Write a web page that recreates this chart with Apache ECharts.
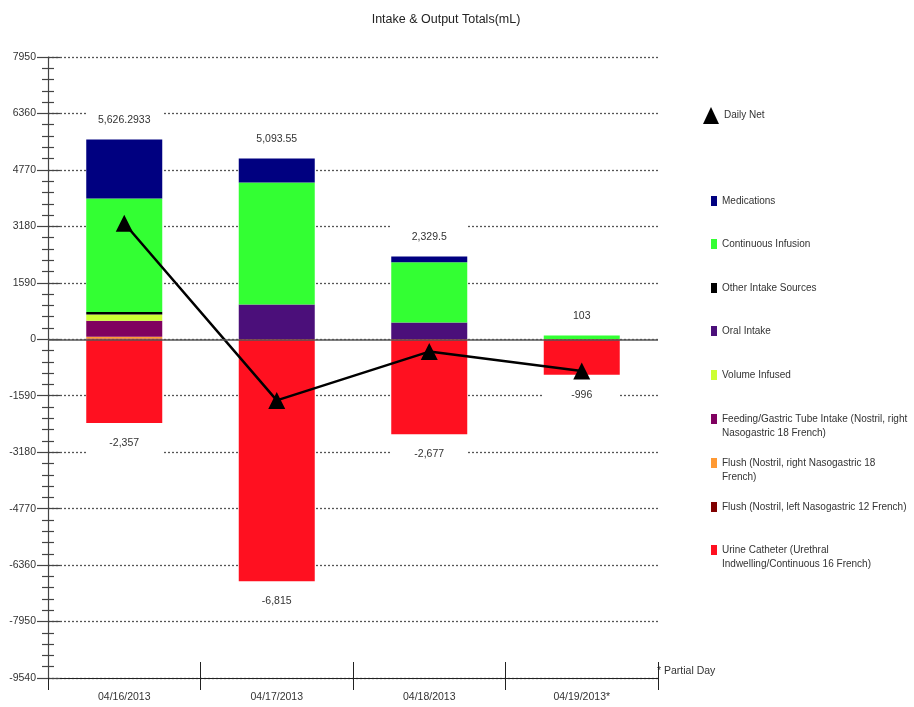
<!DOCTYPE html>
<html>
<head>
<meta charset="utf-8">
<title>Intake & Output Totals</title>
<script src="https://cdn.jsdelivr.net/npm/echarts@6/dist/echarts.min.js"></script>
<style>
  html, body { margin: 0; padding: 0; background: #fff; }
  #chart { width: 914px; height: 707px; }
</style>
</head>
<body>
<div id="chart"></div>
<script>
// Days shown on the category axis
const categories = ['04/16/2013', '04/17/2013', '04/18/2013', '04/19/2013*'];

// Intake sources (mL per day)
const medications        = [1659.2933, 675.55, 158.5, 0];
const continuousInfusion = [3197, 3440, 1701, 103];
const otherIntake        = [70, 0, 0, 0];
const oralIntake         = [0, 978, 470, 0];
const volumeInfused      = [180, 0, 0, 0];
const feedingTube        = [450, 0, 0, 0];
const flushRight         = [50, 0, 0, 0];
const flushLeft          = [20, 0, 0, 0];

// Output (mL per day)
const urineCatheter = [-2357, -6815, -2677, -996];

// Daily intake totals and net balance
const intakeTotals = [5626.2933, 5093.55, 2329.5, 103];
const dailyNet     = [3269.2933, -1721.45, -347.5, -893];

// Value axis range and step
const yMin = -9540;
const yMax = 7950;
const yStep = 1590;

const FONT = "'Liberation Sans', Arial, sans-serif";
const TEXT = '#333';
const LINE_H = 14.5;

function fmt(v) {
  return v.toLocaleString('en-US', { maximumFractionDigits: 4 });
}

const barSeries = [
  { name: 'Flush (Nostril, left Nasogastric 12 French)', data: flushLeft, color: '#800000' },
  { name: 'Flush (Nostril, right Nasogastric 18 French)', data: flushRight, color: '#FF9933' },
  { name: 'Feeding/Gastric Tube Intake (Nostril, right Nasogastric 18 French)', data: feedingTube, color: '#800060' },
  { name: 'Volume Infused', data: volumeInfused, color: '#CCFF33' },
  { name: 'Oral Intake', data: oralIntake, color: '#4B0F7A' },
  { name: 'Other Intake Sources', data: otherIntake, color: '#000000' },
  { name: 'Continuous Infusion', data: continuousInfusion, color: '#33FF33' },
  { name: 'Medications', data: medications, color: '#000080' },
  { name: 'Urine Catheter (Urethral Indwelling/Continuous 16 French)', data: urineCatheter, color: '#FF1020' }
];

// Legend entries: name, wrapped lines, vertical centre of the swatch
const legendRows = [
  ['Medications', ['Medications'], 201],
  ['Continuous Infusion', ['Continuous Infusion'], 244],
  ['Other Intake Sources', ['Other Intake Sources'], 288],
  ['Oral Intake', ['Oral Intake'], 331],
  ['Volume Infused', ['Volume Infused'], 375],
  ['Feeding/Gastric Tube Intake (Nostril, right Nasogastric 18 French)', ['Feeding/Gastric Tube Intake (Nostril, right', 'Nasogastric 18 French)'], 419],
  ['Flush (Nostril, right Nasogastric 18 French)', ['Flush (Nostril, right Nasogastric 18', 'French)'], 463],
  ['Flush (Nostril, left Nasogastric 12 French)', ['Flush (Nostril, left Nasogastric 12 French)'], 507],
  ['Urine Catheter (Urethral Indwelling/Continuous 16 French)', ['Urine Catheter (Urethral', 'Indwelling/Continuous 16 French)'], 550]
];

const legends = [{
  data: ['Daily Net'],
  left: 703,
  top: 107,
  padding: 0,
  orient: 'vertical',
  icon: 'triangle',
  itemWidth: 16,
  itemHeight: 17,
  selectedMode: false,
  textStyle: { fontFamily: FONT, fontSize: 10, color: TEXT }
}];
legendRows.forEach(function (row) {
  const lines = row[1];
  // a blank line above keeps the first line level with the swatch
  const text = lines.length > 1 ? ' \n' + lines.join('\n') : lines[0];
  legends.push({
    data: [row[0]],
    left: 711,
    top: lines.length > 1 ? row[2] - LINE_H * 1.5 : row[2] - LINE_H / 2,
    padding: 0,
    orient: 'vertical',
    icon: 'rect',
    itemWidth: 6,
    itemHeight: 10,
    selectedMode: false,
    formatter: function () { return text; },
    textStyle: { fontFamily: FONT, fontSize: 10, color: TEXT, lineHeight: LINE_H }
  });
});

const labelBox = {
  fontFamily: FONT, fontSize: 10.5, color: TEXT,
  backgroundColor: '#fff',
  width: 76, height: 14, lineHeight: 14, align: 'center',
  padding: [5, 0]
};

const series = barSeries.map(function (s) {
  const isUrine = s.data === urineCatheter;
  const out = {
    name: s.name,
    type: 'bar',
    stack: 'io',
    barWidth: 76,
    data: s.data,
    itemStyle: { color: s.color },
    emphasis: { disabled: true }
  };
  if (isUrine) {
    out.label = Object.assign({
      show: true,
      position: 'bottom',
      distance: 8,
      formatter: function (p) { return fmt(p.value); }
    }, labelBox);
    out.markLine = {
      silent: true,
      symbol: 'none',
      label: { show: false },
      lineStyle: { color: '#555', width: 1.5, type: 'solid' },
      data: [{ yAxis: 0 }],
      z: 20
    };
  }
  return out;
});

// Totals above each intake stack
series.push({
  name: 'Intake Total',
  type: 'scatter',
  data: intakeTotals,
  symbolSize: 1,
  itemStyle: { color: 'rgba(0,0,0,0)', opacity: 1 },
  silent: true,
  label: Object.assign({
    show: true,
    position: 'top',
    distance: 7,
    opacity: 1,
    formatter: function (p) { return fmt(p.value); }
  }, labelBox),
  z: 3
});

// Net balance line
series.push({
  name: 'Daily Net',
  type: 'line',
  data: dailyNet,
  symbol: 'triangle',
  symbolSize: [17, 17],
  itemStyle: { color: '#000' },
  lineStyle: { color: '#000', width: 2.5 },
  emphasis: { disabled: true },
  z: 10
});

const chart = echarts.init(document.getElementById('chart'), null, { renderer: 'canvas' });
chart.setOption({
  animation: false,
  backgroundColor: '#fff',
  title: {
    text: 'Intake & Output Totals(mL)',
    left: 441,
    textAlign: 'center',
    top: 8,
    textStyle: { fontFamily: FONT, fontSize: 12.5, fontWeight: 'normal', color: '#222' }
  },
  legend: legends,
  grid: { left: 48, right: 256, top: 57, bottom: 29, containLabel: false },
  xAxis: [{
    type: 'category',
    data: categories,
    boundaryGap: true,
    axisLine: { onZero: false, lineStyle: { color: '#222', width: 1.2 } },
    axisTick: { show: true, length: 12, lineStyle: { color: '#222' } },
    axisLabel: { fontFamily: FONT, fontSize: 10.5, color: TEXT, margin: 14 },
    splitLine: { show: false }
  }, {
    type: 'category',
    data: categories,
    position: 'bottom',
    boundaryGap: true,
    axisLine: { show: false, onZero: false },
    axisTick: {
      show: true, inside: true, length: 16, lineStyle: { color: '#222' },
      // inner boundaries only
      interval: function (i) { return i > 0; }
    },
    axisLabel: { show: false },
    splitLine: { show: false }
  }],
  yAxis: [{
    type: 'value',
    min: yMin,
    max: yMax,
    interval: yStep,
    axisLine: { show: true, lineStyle: { color: '#444', width: 1.2 } },
    axisTick: { show: true, length: 11, lineStyle: { color: '#444', width: 1.2 } },
    minorTick: { show: true, splitNumber: 5, length: 6, lineStyle: { color: '#444', width: 1.2 } },
    axisLabel: {
      fontFamily: FONT, fontSize: 10.5, color: TEXT, margin: 12,
      formatter: function (v) { return String(v); }
    },
    splitLine: { show: true, lineStyle: { color: '#555', width: 1.3, type: [2, 2] } }
  }, {
    type: 'value',
    position: 'left',
    min: yMin,
    max: yMax,
    interval: yStep,
    axisLine: { show: false },
    axisTick: { show: true, inside: true, length: 12, lineStyle: { color: '#444', width: 1.2 } },
    minorTick: { show: true, splitNumber: 5, length: 6, lineStyle: { color: '#444', width: 1.2 } },
    axisLabel: { show: false },
    splitLine: { show: false }
  }],
  graphic: [{
    type: 'text',
    left: 657,
    top: 666,
    style: { text: '* Partial Day', font: "10.5px 'Liberation Sans', Arial, sans-serif", fill: TEXT }
  }],
  series: series
});
</script>
</body>
</html>
